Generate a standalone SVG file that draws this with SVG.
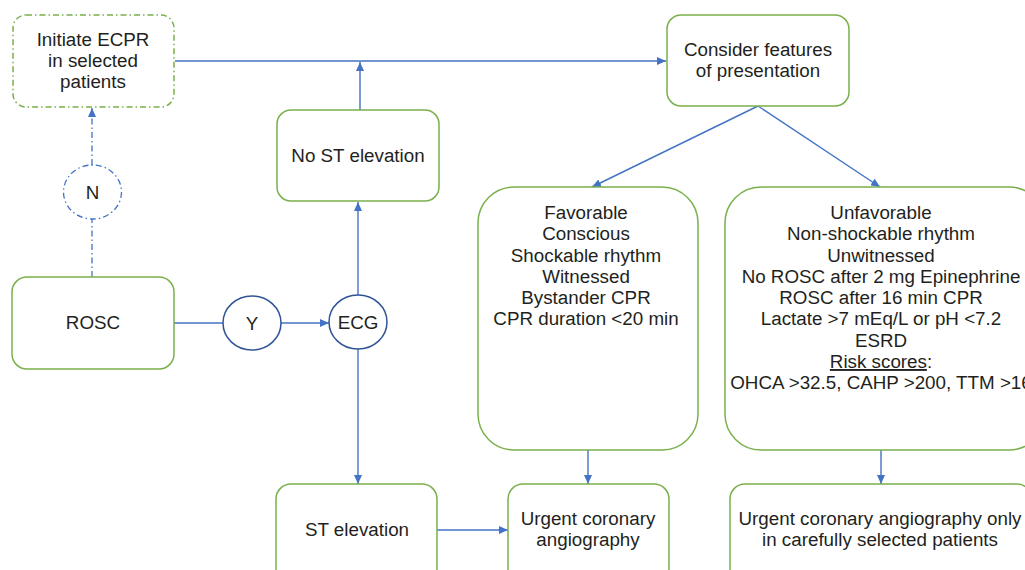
<svg xmlns="http://www.w3.org/2000/svg" width="1025" height="570" viewBox="0 0 1025 570">
<style>
.box{fill:#fff;stroke:#7ab04c;stroke-width:1.5}
.dashbox{fill:#fff;stroke:#7ab04c;stroke-width:1.5;stroke-dasharray:6 3 1.5 3}
.circ{fill:#fff;stroke:#2f5597;stroke-width:1.5}
.dashcirc{fill:#fff;stroke:#4472c4;stroke-width:1.3;stroke-dasharray:6 3 1.5 3}
.ln{fill:none;stroke:#4472c4;stroke-width:1.4}
.dln{fill:none;stroke:#4472c4;stroke-width:1.3;stroke-dasharray:6 3 1.5 3}
text{font-family:"Liberation Sans",Arial,sans-serif;font-size:18.8px;fill:#231f20;text-anchor:middle}
</style>
<defs>
<marker id="ah" markerWidth="9" markerHeight="8" refX="9" refY="4" orient="auto" markerUnits="userSpaceOnUse">
<path d="M0,0 L9,4 L0,8 Z" fill="#4472c4"/>
</marker>
</defs>
<rect width="1025" height="570" fill="#fff"/>
<g id="connectors">
<line class="ln" x1="175" y1="61" x2="666" y2="61" marker-end="url(#ah)"/>
<line class="ln" x1="360" y1="110" x2="360" y2="62" marker-end="url(#ah)"/>
<line class="ln" x1="358" y1="295" x2="358" y2="202" marker-end="url(#ah)"/>
<line class="dln" x1="92" y1="277" x2="92" y2="219"/>
<line class="dln" x1="92" y1="165" x2="92" y2="108" marker-end="url(#ah)"/>
<line class="ln" x1="174" y1="323" x2="223" y2="323"/>
<line class="ln" x1="281" y1="323" x2="329" y2="323" marker-end="url(#ah)"/>
<line class="ln" x1="358" y1="349" x2="358" y2="484" marker-end="url(#ah)"/>
<line class="ln" x1="437" y1="530" x2="508" y2="530" marker-end="url(#ah)"/>
<line class="ln" x1="758" y1="106" x2="592" y2="187" marker-end="url(#ah)"/>
<line class="ln" x1="758" y1="106" x2="880" y2="187" marker-end="url(#ah)"/>
<line class="ln" x1="588" y1="450" x2="588" y2="484" marker-end="url(#ah)"/>
<line class="ln" x1="881" y1="450" x2="881" y2="484" marker-end="url(#ah)"/>
</g>
<g id="initiate">
<rect class="dashbox" x="13" y="15" width="161" height="92" rx="13"/>
<text x="93" y="46">Initiate ECPR</text>
<text x="93" y="67">in selected</text>
<text x="93" y="88">patients</text>
</g>
<g id="consider">
<rect class="box" x="667" y="15" width="182" height="91" rx="14"/>
<text x="758" y="56">Consider features</text>
<text x="758" y="77">of presentation</text>
</g>
<g id="n">
<ellipse class="dashcirc" cx="92.5" cy="192" rx="29" ry="27"/>
<text x="92.5" y="199">N</text>
</g>
<g id="nost">
<rect class="box" x="277" y="110" width="162" height="91" rx="14"/>
<text x="358" y="162">No ST elevation</text>
</g>
<g id="rosc">
<rect class="box" x="12" y="277" width="162" height="92" rx="15"/>
<text x="93" y="329">ROSC</text>
</g>
<g id="y">
<ellipse class="circ" cx="252" cy="323" rx="29" ry="27"/>
<text x="252" y="330">Y</text>
</g>
<g id="ecg">
<ellipse class="circ" cx="358" cy="322" rx="29" ry="27"/>
<text x="358" y="329">ECG</text>
</g>
<g id="favorable">
<rect class="box" x="478" y="187" width="220" height="263" rx="36"/>
<text x="586" y="219">Favorable</text>
<text x="586" y="240">Conscious</text>
<text x="586" y="262">Shockable rhythm</text>
<text x="586" y="283">Witnessed</text>
<text x="586" y="304">Bystander CPR</text>
<text x="586" y="325">CPR duration &lt;20 min</text>
</g>
<g id="unfavorable">
<rect class="box" x="725" y="187" width="320" height="263" rx="36"/>
<text x="881" y="219">Unfavorable</text>
<text x="881" y="240">Non-shockable rhythm</text>
<text x="881" y="262">Unwitnessed</text>
<text x="881" y="283">No ROSC after 2 mg Epinephrine</text>
<text x="881" y="304">ROSC after 16 min CPR</text>
<text x="881" y="325">Lactate &gt;7 mEq/L or pH &lt;7.2</text>
<text x="881" y="347">ESRD</text>
<text x="881" y="368"><tspan text-decoration="underline">Risk scores</tspan>:</text>
<text x="881" y="389">OHCA &gt;32.5, CAHP &gt;200, TTM &gt;16</text>
</g>
<g id="stelev">
<rect class="box" x="276" y="484" width="161" height="100" rx="15"/>
<text x="357" y="536">ST elevation</text>
</g>
<g id="urgent">
<rect class="box" x="508" y="484" width="161" height="100" rx="15"/>
<text x="588" y="525">Urgent coronary</text>
<text x="588" y="546">angiography</text>
</g>
<g id="urgentsel">
<rect class="box" x="730" y="484" width="302" height="100" rx="15"/>
<text x="880" y="525">Urgent coronary angiography only</text>
<text x="880" y="546">in carefully selected patients</text>
</g>
</svg>
